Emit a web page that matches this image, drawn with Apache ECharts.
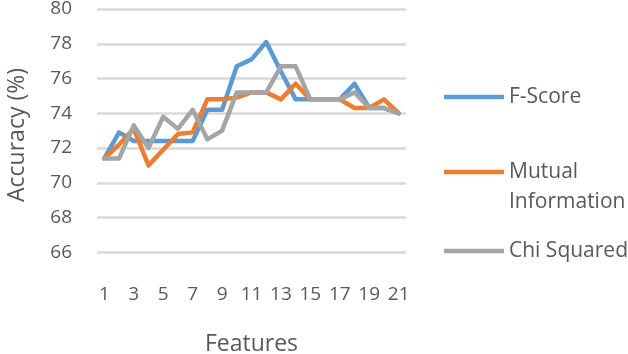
<!DOCTYPE html>
<html>
<head>
<meta charset="utf-8">
<script src="https://cdn.jsdelivr.net/npm/echarts@6/dist/echarts.min.js"></script>
<style>
html,body{margin:0;padding:0;background:#fff;}
#chart{width:628px;height:354px;}
</style>
</head>
<body>
<div id="chart"></div>
<script>
var features = ['1','2','3','4','5','6','7','8','9','10','11','12','13','14','15','16','17','18','19','20','21'];
var fScore = [71.4, 72.9, 72.4, 72.4, 72.4, 72.4, 72.4, 74.2, 74.2, 76.7, 77.1, 78.1, 76.4, 74.8, 74.8, 74.8, 74.8, 75.7, 74.3, 74.3, 74.0];
var mutualInfo = [71.4, 72.2, 73.1, 71.0, 71.9, 72.8, 72.9, 74.8, 74.8, 74.9, 75.2, 75.2, 74.8, 75.7, 74.8, 74.8, 74.8, 74.3, 74.3, 74.8, 74.0];
var chiSquared = [71.4, 71.4, 73.3, 72.0, 73.8, 73.1, 74.2, 72.5, 73.0, 75.2, 75.2, 75.2, 76.7, 76.7, 74.8, 74.8, 74.8, 75.2, 74.3, 74.3, 74.0];
var seriesNames = ['F-Score', 'Mutual Information', 'Chi Squared'];
var colors = ['#5B9BD5', '#ED7D31', '#A5A5A5'];

var FONT = '"Open Sans"';
var TXT = '#595959';
var chart = echarts.init(document.getElementById('chart'), null, {renderer: 'canvas'});

function mkSeries(name, data, color) {
  return {
    name: name, type: 'line', data: data, symbol: 'none', smooth: false,
    lineStyle: {color: color, width: 4.5, join: 'round', cap: 'round'},
    itemStyle: {color: color}
  };
}
function mkLegend(name, top, extra) {
  var l = {
    data: [name], left: 444, top: top, orient: 'vertical',
    icon: 'rect', itemWidth: 60, itemHeight: 4.5, itemGap: 0,
    selectedMode: false, padding: 0,
    textStyle: {fontFamily: FONT, fontSize: 21, color: TXT, lineHeight: 30}
  };
  if (extra) { for (var k in extra) l[k] = extra[k]; }
  return l;
}

chart.setOption({
  animation: false,
  color: colors,
  grid: {left: 97, right: 222, top: 9, bottom: 67, containLabel: false, outerBoundsMode: 'none'},
  xAxis: {
    type: 'category', data: features, boundaryGap: true,
    name: 'Features', nameLocation: 'middle', nameGap: 46,
    nameTextStyle: {fontFamily: FONT, fontSize: 23, color: TXT},
    axisLine: {show: false}, axisTick: {show: false},
    axisLabel: {interval: 1, fontFamily: FONT, fontSize: 19, color: TXT, margin: -2}
  },
  yAxis: {
    type: 'value', min: 64, max: 80, interval: 2,
    name: 'Accuracy (%)', nameLocation: 'middle', nameGap: 68, nameRotate: 90,
    nameTextStyle: {fontFamily: FONT, fontSize: 23, color: TXT, padding: [0, 0, 0, 26]},
    axisLine: {show: false}, axisTick: {show: false},
    axisLabel: {fontFamily: FONT, fontSize: 19, color: TXT, margin: 25,
      formatter: function (v) { return v === 64 ? '' : v; }},
    splitLine: {show: true, showMinLine: false, lineStyle: {color: '#D9D9D9', width: 2.5}}
  },
  legend: [
    mkLegend(seriesNames[0], 82),
    mkLegend(seriesNames[1], 127, {
      formatter: function (n) { return '\u00a0\n' + n.replace(' ', '\n'); }
    }),
    mkLegend(seriesNames[2], 236)
  ],
  series: [
    mkSeries(seriesNames[0], fScore, colors[0]),
    mkSeries(seriesNames[1], mutualInfo, colors[1]),
    mkSeries(seriesNames[2], chiSquared, colors[2])
  ]
});
</script>
</body>
</html>
